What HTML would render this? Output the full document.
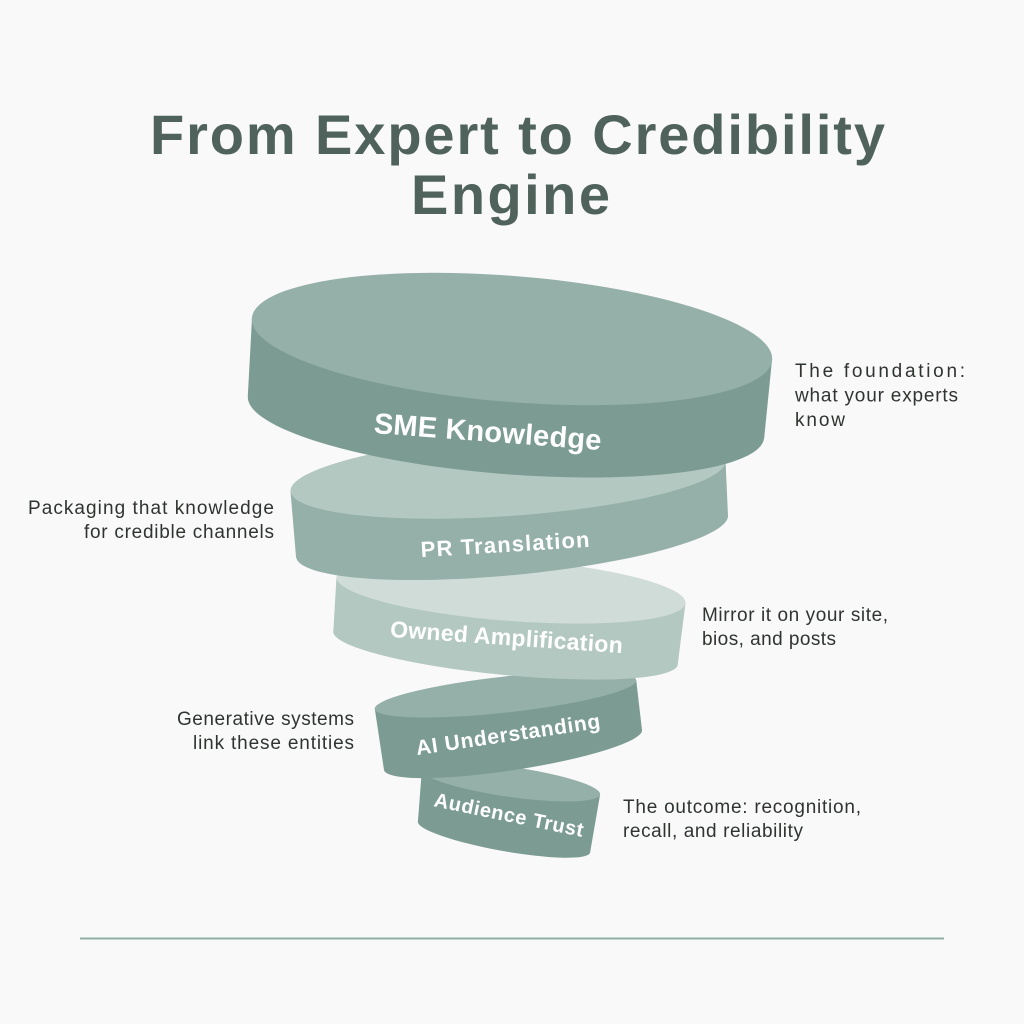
<!DOCTYPE html>
<html>
<head>
<meta charset="utf-8">
<style>
  html, body { margin: 0; padding: 0; background: #f9f9f9; }
  svg { display: block; }
  .title { font-family: "Liberation Sans", sans-serif; font-weight: bold; fill: #4f625b; }
  .lbl { font-family: "Liberation Sans", sans-serif; font-size: 19px; fill: #2f3431; }
  .disc { font-family: "Liberation Sans", sans-serif; font-weight: bold; fill: #ffffff; }
</style>
</head>
<body>
<svg width="1024" height="1024" viewBox="0 0 1024 1024" xmlns="http://www.w3.org/2000/svg">
  <rect x="0" y="0" width="1024" height="1024" fill="#f9f9f9"/>

  <!-- Title -->
  <text class="title" x="150" y="154" font-size="56" textLength="735" lengthAdjust="spacing">From Expert to Credibility</text>
  <text class="title" x="411" y="214" font-size="56" textLength="199" lengthAdjust="spacing">Engine</text>

  <!-- Audience Trust disc -->
  <ellipse cx="504" cy="837" rx="87.5" ry="14" transform="rotate(10.2 504 837)" fill="#7c9c93"/>
  <polygon points="421.9,769.5 417.9,821.5 590.1,852.5 600.1,794.5" fill="#7c9c93"/>
  <ellipse cx="511" cy="782" rx="90" ry="15" transform="rotate(8 511 782)" fill="#95b0a8"/>
  <text class="disc" x="507.5" y="821.5" font-size="20" text-anchor="middle" textLength="152" lengthAdjust="spacing" transform="rotate(11.7 507.5 821.5)">Audience Trust</text>

  <!-- AI Understanding disc -->
  <ellipse cx="513" cy="750" rx="130.5" ry="20" transform="rotate(-8.8 513 750)" fill="#7c9c93"/>
  <polygon points="374.8,708.9 384,770 642,730 636.2,680.1" fill="#7c9c93"/>
  <ellipse cx="505.5" cy="694.5" rx="131.5" ry="18" transform="rotate(-6.3 505.5 694.5)" fill="#95b0a8"/>
  <text class="disc" x="509" y="741.5" font-size="21" text-anchor="middle" textLength="186" lengthAdjust="spacing" transform="rotate(-8.4 509 741.5)">AI Understanding</text>

  <!-- Owned Amplification disc -->
  <ellipse cx="505.5" cy="648" rx="173" ry="27" transform="rotate(5.5 505.5 648)" fill="#b4c8c2"/>
  <polygon points="336.5,576.9 333.3,631.4 677.7,664.6 685.5,603.1" fill="#b4c8c2"/>
  <ellipse cx="511" cy="590" rx="175" ry="31" transform="rotate(4.3 511 590)" fill="#d0dcd8"/>
  <text class="disc" x="506" y="645" font-size="23" text-anchor="middle" textLength="233" lengthAdjust="spacing" transform="rotate(4 506 645)">Owned Amplification</text>

  <!-- PR Translation disc -->
  <ellipse cx="512" cy="536" rx="217" ry="39" transform="rotate(-5.5 512 536)" fill="#95b0a8"/>
  <polygon points="290.5,491.2 296,556.8 728,515.2 725.5,460.8" fill="#95b0a8"/>
  <ellipse cx="508" cy="476" rx="218" ry="40" transform="rotate(-4 508 476)" fill="#b4c8c2"/>
  <text class="disc" x="505.5" y="552" font-size="22" text-anchor="middle" textLength="169" lengthAdjust="spacing" transform="rotate(-3.5 505.5 552)">PR Translation</text>

  <!-- SME Knowledge disc -->
  <ellipse cx="506" cy="417" rx="259" ry="57" transform="rotate(4.6 506 417)" fill="#7c9c93"/>
  <polygon points="252,318 247.8,396.2 764.2,437.8 772,360" fill="#7c9c93"/>
  <ellipse cx="512" cy="339" rx="261" ry="63" transform="rotate(4.6 512 339)" fill="#95b0a8"/>
  <text class="disc" x="487" y="441.5" font-size="29" text-anchor="middle" textLength="228" lengthAdjust="spacing" transform="rotate(4.3 487 441.5)">SME Knowledge</text>

  <!-- Side labels -->
  <text class="lbl" x="795" y="377" textLength="170" lengthAdjust="spacing">The foundation:</text>
  <text class="lbl" x="795" y="401.5" textLength="163" lengthAdjust="spacing">what your experts</text>
  <text class="lbl" x="795" y="426" textLength="50" lengthAdjust="spacing">know</text>

  <text class="lbl" x="28" y="514" textLength="246" lengthAdjust="spacing">Packaging that knowledge</text>
  <text class="lbl" x="84" y="538" textLength="190" lengthAdjust="spacing">for credible channels</text>

  <text class="lbl" x="702" y="621" textLength="186" lengthAdjust="spacing">Mirror it on your site,</text>
  <text class="lbl" x="702" y="645" textLength="134" lengthAdjust="spacing">bios, and posts</text>

  <text class="lbl" x="177" y="725" textLength="177" lengthAdjust="spacing">Generative systems</text>
  <text class="lbl" x="193" y="749" textLength="161" lengthAdjust="spacing">link these entities</text>

  <text class="lbl" x="623" y="813" textLength="238" lengthAdjust="spacing">The outcome: recognition,</text>
  <text class="lbl" x="623" y="837" textLength="180" lengthAdjust="spacing">recall, and reliability</text>

  <!-- Bottom rule -->
  <rect x="80" y="937.5" width="864" height="2" fill="#8fb0a5"/>
</svg>
</body>
</html>
